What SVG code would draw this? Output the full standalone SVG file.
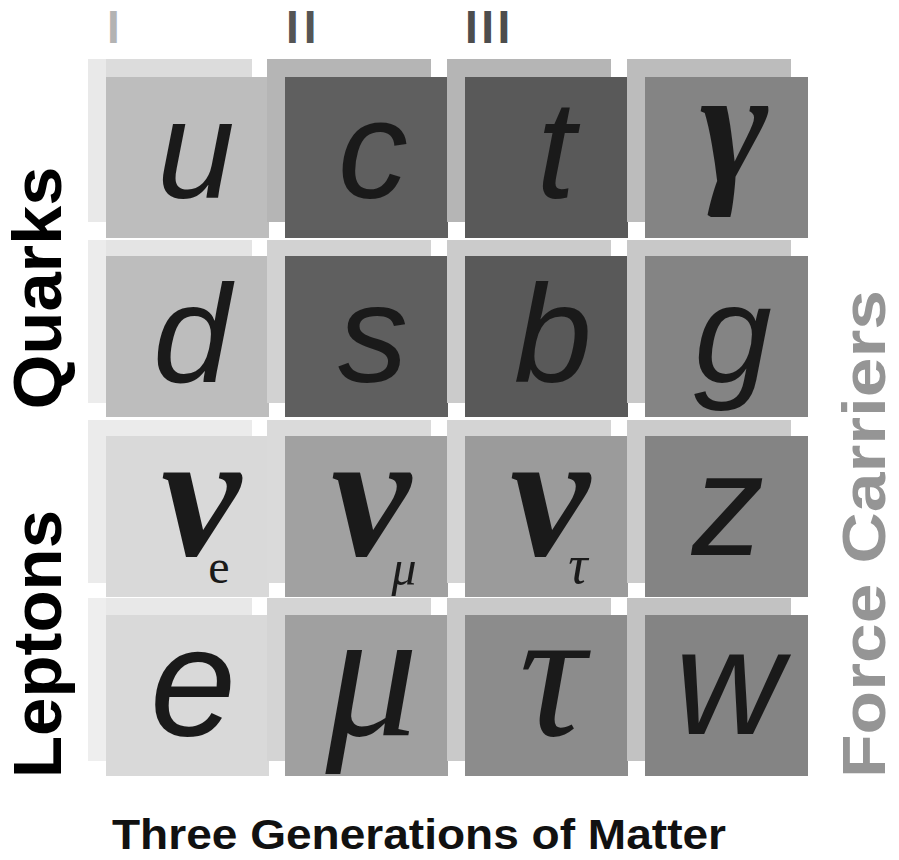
<svg xmlns="http://www.w3.org/2000/svg" width="899" height="860" viewBox="0 0 899 860">
<style>
.bg{fill:#ffffff}
.lbl{font-family:"Liberation Sans",Arial,sans-serif;font-weight:bold}
.num{font-family:"Liberation Sans",Arial,sans-serif;font-weight:bold;font-size:46px}
.sans{font-family:"Liberation Sans",Arial,sans-serif;font-style:italic;fill:#1a1a1a;text-anchor:middle}
.greek{font-family:"Liberation Serif","DejaVu Serif",serif;font-style:italic;fill:#1a1a1a;text-anchor:middle}
.nu{font-family:"Liberation Serif","DejaVu Serif",serif;font-style:italic;font-weight:bold;fill:#1a1a1a;text-anchor:middle;font-size:180px}
.sub{font-weight:normal}
</style>
<rect class="bg" x="0" y="0" width="899" height="860"/>

<!-- generation numerals -->
<g id="numerals">
<text class="num" x="107" y="43" fill="#b3b3b3">I</text>
<text class="num" x="286" y="43" fill="#555555" letter-spacing="5">II</text>
<text class="num" x="465" y="43" fill="#4d4d4d" letter-spacing="3.5">III</text>
</g>

<!-- Row 1 -->
<g id="cell-u">
<rect x="88" y="59" width="164" height="163" fill="#dcdcdc"/>
<rect x="88" y="59" width="18" height="163" fill="#e9e9e9"/>
<rect x="106" y="77" width="163" height="161" fill="#bdbdbd"/>
<text class="sans" x="196" y="198" font-size="140">u</text>
</g>
<g id="cell-c">
<rect x="267" y="59" width="164" height="163" fill="#b5b5b5"/>
<rect x="285" y="77" width="163" height="161" fill="#5f5f5f"/>
<text class="sans" x="373" y="198" font-size="140">c</text>
</g>
<g id="cell-t">
<rect x="447" y="59" width="164" height="163" fill="#b5b5b5"/>
<rect x="465" y="77" width="163" height="161" fill="#595959"/>
<text class="sans" x="556" y="198" font-size="140">t</text>
</g>
<g id="cell-gamma">
<rect x="627" y="59" width="164" height="163" fill="#bcbcbc"/>
<rect x="645" y="77" width="163" height="161" fill="#848484"/>
<text class="greek" x="734" y="182" font-size="165" font-weight="bold">γ</text>
</g>

<!-- Row 2 -->
<g id="cell-d">
<rect x="88" y="240" width="164" height="163" fill="#e4e4e4"/>
<rect x="88" y="240" width="18" height="163" fill="#ececec"/>
<rect x="106" y="256" width="163" height="161" fill="#bdbdbd"/>
<text class="sans" x="192" y="382" font-size="140">d</text>
</g>
<g id="cell-s">
<rect x="267" y="240" width="164" height="163" fill="#d2d2d2"/>
<rect x="285" y="256" width="163" height="161" fill="#5f5f5f"/>
<text class="sans" x="373" y="382" font-size="140">s</text>
</g>
<g id="cell-b">
<rect x="447" y="240" width="164" height="163" fill="#cbcbcb"/>
<rect x="465" y="256" width="163" height="161" fill="#595959"/>
<text class="sans" x="553" y="382" font-size="140">b</text>
</g>
<g id="cell-g">
<rect x="627" y="240" width="164" height="163" fill="#c8c8c8"/>
<rect x="645" y="256" width="163" height="161" fill="#848484"/>
<text class="sans" x="733" y="382" font-size="140">g</text>
</g>

<!-- Row 3 -->
<g id="cell-nu-e">
<rect x="88" y="420" width="164" height="163" fill="#ebebeb"/>
<rect x="106" y="436" width="163" height="161" fill="#d9d9d9"/>
<text class="nu" x="201" y="555">ν<tspan class="sub" x="219" y="583" font-size="48" font-style="normal">e</tspan></text>
</g>
<g id="cell-nu-mu">
<rect x="267" y="420" width="164" height="163" fill="#dadada"/>
<rect x="285" y="436" width="163" height="161" fill="#a1a1a1"/>
<text class="nu" x="371" y="555">ν<tspan class="sub" x="404" y="585" font-size="50">μ</tspan></text>
</g>
<g id="cell-nu-tau">
<rect x="447" y="420" width="164" height="163" fill="#d4d4d4"/>
<rect x="465" y="436" width="163" height="161" fill="#9b9b9b"/>
<text class="nu" x="550" y="555">ν<tspan class="sub" x="578" y="583" font-size="54">τ</tspan></text>
</g>
<g id="cell-z">
<rect x="627" y="420" width="164" height="163" fill="#cbcbcb"/>
<rect x="645" y="436" width="163" height="161" fill="#848484"/>
<text class="sans" x="728" y="555" font-size="145">z</text>
</g>

<!-- Row 4 -->
<g id="cell-e">
<rect x="88" y="598" width="164" height="163" fill="#e8e8e8"/>
<rect x="88" y="598" width="18" height="163" fill="#eeeeee"/>
<rect x="106" y="615" width="163" height="161" fill="#d9d9d9"/>
<text class="sans" x="193" y="735" font-size="155">e</text>
</g>
<g id="cell-mu">
<rect x="267" y="598" width="164" height="163" fill="#d4d4d4"/>
<rect x="285" y="615" width="163" height="161" fill="#a0a0a0"/>
<text class="greek" x="372" y="735" font-size="185">μ</text>
</g>
<g id="cell-tau">
<rect x="447" y="598" width="164" height="163" fill="#c9c9c9"/>
<rect x="465" y="615" width="163" height="161" fill="#8c8c8c"/>
<text class="greek" x="552" y="735" font-size="185">τ</text>
</g>
<g id="cell-w">
<rect x="627" y="598" width="164" height="163" fill="#c2c2c2"/>
<rect x="645" y="615" width="163" height="161" fill="#848484"/>
<text class="sans" x="729" y="734" font-size="150">w</text>
</g>

<!-- side labels -->
<g id="label-quarks">
<text class="lbl" transform="translate(61,288) rotate(-90)" font-size="68" text-anchor="middle" textLength="243" lengthAdjust="spacingAndGlyphs" fill="#000000">Quarks</text>
</g>
<g id="label-leptons">
<text class="lbl" transform="translate(61,644) rotate(-90)" font-size="68" text-anchor="middle" textLength="268" lengthAdjust="spacingAndGlyphs" fill="#000000">Leptons</text>
</g>
<g id="label-force">
<text class="lbl" transform="translate(885,534) rotate(-90)" font-size="62" text-anchor="middle" textLength="488" lengthAdjust="spacingAndGlyphs" fill="#959595">Force Carriers</text>
</g>
<g id="label-generations">
<text class="lbl" x="112" y="849" font-size="42" textLength="614" lengthAdjust="spacingAndGlyphs" fill="#111111">Three Generations of Matter</text>
</g>
<g id="connectors"></g>
</svg>
